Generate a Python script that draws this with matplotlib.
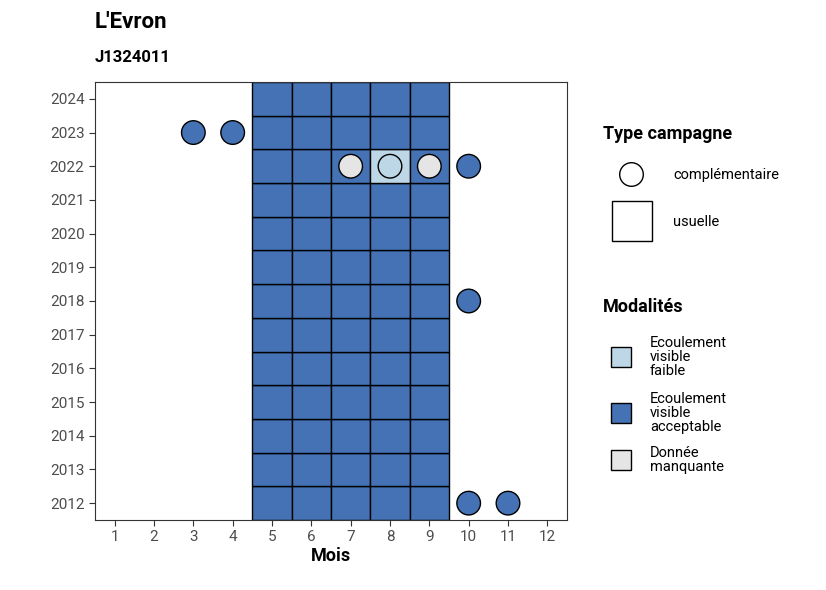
import matplotlib
matplotlib.use("Agg")
import matplotlib.pyplot as plt
from matplotlib.patches import Rectangle
from matplotlib.lines import Line2D

plt.rcParams['font.family'] = ['Roboto', 'DejaVu Sans']

years = list(range(2012, 2025))
usual_months = [5, 6, 7, 8, 9]
# usual campaign squares: (month, year, modality) exceptions
square_exceptions = {(8, 2022): 'faible'}
# complementary campaign circles
circ_month = [3, 4, 7, 8, 9, 10, 10, 10, 11]
circ_year = [2023, 2023, 2022, 2022, 2022, 2022, 2018, 2012, 2012]
circ_mod = ['acceptable', 'acceptable', 'manquante', 'faible', 'manquante',
            'acceptable', 'acceptable', 'acceptable', 'acceptable']

colors = {'faible': '#BDD7E7', 'acceptable': '#4472B4', 'manquante': '#E5E5E5'}
mod_labels = [('faible', 'Ecoulement\nvisible\nfaible'),
              ('acceptable', 'Ecoulement\nvisible\nacceptable'),
              ('manquante', 'Donnée\nmanquante')]

W, H = 826, 590
fig = plt.figure(figsize=(W/100, H/100), dpi=100)
ax = fig.add_axes([95/W, 1-520/H, (567-95)/W, (520-82)/H])

for y in years:
    for m in usual_months:
        mod = square_exceptions.get((m, y), 'acceptable')
        ax.add_patch(Rectangle((m-0.5, y-0.5), 1, 1, facecolor=colors[mod],
                               edgecolor='black', linewidth=1, zorder=2))
ax.scatter(circ_month, circ_year, s=17**2, c=[colors[m] for m in circ_mod],
           edgecolors='black', linewidths=1, zorder=3)

ax.set_xlim(0.5, 12.5)
ax.set_ylim(2011.5, 2024.5)
ax.set_xticks(range(1, 13))
ax.set_yticks(years)
ax.tick_params(labelsize=11, labelcolor='#4D4D4D', color='#333333', length=4)
for s in ax.spines.values():
    s.set_color('#333333')
ax.set_xlabel('Mois', fontsize=13, fontweight='bold', labelpad=2)

fig.text(95/W, 1-22/H, "L'Evron", fontsize=16, fontweight='bold', va='center')
fig.text(95/W, 1-58/H, "J1324011", fontsize=12, fontweight='bold', va='center')

# legend: type campagne
fig.text(603/W, 1-134/H, "Type campagne", fontsize=13, fontweight='bold', va='center')
fig.add_artist(Line2D([631/W], [1-174/H], marker='o', markersize=17,
                      markerfacecolor='white', markeredgecolor='black',
                      transform=fig.transFigure))
fig.text(673/W, 1-175/H, "complémentaire", fontsize=10.5, va='center')
fig.add_artist(Rectangle((612/W, 1-241/H), 40/W, 40/H, facecolor='white',
                         edgecolor='black', linewidth=1, transform=fig.transFigure))
fig.text(673/W, 1-222/H, "usuelle", fontsize=10.5, va='center')

fig.text(603/W, 1-307/H, "Modalités", fontsize=13, fontweight='bold', va='center')
for (mod, lab), yc in zip(mod_labels, [357, 413, 460]):
    fig.add_artist(Rectangle((611/W, 1-(yc+10)/H), 20/W, 20/H, facecolor=colors[mod],
                             edgecolor='black', linewidth=1, transform=fig.transFigure))
    fig.text(650/W, 1-yc/H, lab, fontsize=10.5, va='center', linespacing=1.0)

fig.savefig('out.png', dpi=100)
